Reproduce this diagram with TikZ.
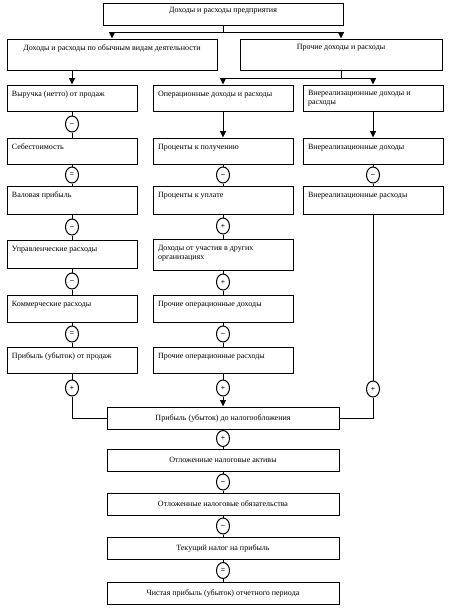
\documentclass[tikz,border=0pt]{standalone}
\usepackage{fontspec}
\setmainfont{Liberation Serif}
\usetikzlibrary{shapes.geometric,arrows.meta}
\begin{document}
\begin{tikzpicture}[x=1pt,y=-1pt,
  box/.style={draw, rectangle, line width=1pt, inner sep=0pt},
  cbl/.style={box, minimum width=130pt},
  cbm/.style={box, minimum width=140pt},
  cbb/.style={box, minimum width=232pt, minimum height=22pt, font=\fontsize{8}{9.5}\selectfont},
  lbl/.style={anchor=north west, inner sep=0pt, xshift=5pt, yshift=-6pt, font=\fontsize{8}{9.5}\selectfont, align=left},
  lblc/.style={anchor=north, inner sep=0pt, yshift=-4pt, font=\fontsize{8}{9.5}\selectfont},
  circ/.style={draw, ellipse, line width=1pt, minimum width=13pt, minimum height=16pt, inner sep=0pt, fill=white, font=\bfseries\fontsize{7.5}{7.5}\selectfont},
  arr/.style={-{Triangle[length=6.5pt,width=6pt]}},
  line width=1pt]
\useasboundingbox (0,0) rectangle (452,611);

% top level
\node[box, minimum width=240pt, minimum height=22pt, label={[lblc, yshift=-0.5pt]north:Доходы и расходы предприятия}] (T) at (223,14) {};
\node[box, minimum width=210pt, minimum height=31pt, label={[lblc, yshift=-1.5pt]north:Доходы и расходы по обычным видам деятельности}] (L1) at (112,54.5) {};
\node[box, minimum width=202pt, minimum height=31pt, label={[lblc, yshift=-1.5pt]north:Прочие доходы и расходы}] (R1) at (341,54.5) {};

% left column
\node[cbl, minimum height=26pt, label={[lbl]north west:Выручка (нетто) от продаж}] (A1) at (72,98) {};
\node[cbl, minimum height=26pt, label={[lbl]north west:Себестоимость}] (A2) at (72,151) {};
\node[cbl, minimum height=28pt, label={[lbl]north west:Валовая прибыль}] (A3) at (72,200) {};
\node[cbl, minimum height=28pt, label={[lbl]north west:Управленческие расходы}] (A4) at (72,254) {};
\node[cbl, minimum height=27pt, label={[lbl]north west:Коммерческие расходы}] (A5) at (72,308.5) {};
\node[cbl, minimum height=26pt, label={[lbl]north west:Прибыль (убыток) от продаж}] (A6) at (72,360) {};

\node[circ] (ca1) at (72,124) {–};
\node[circ] (ca2) at (72,175) {=};
\node[circ] (ca3) at (72,227) {–};
\node[circ] (ca4) at (72,281) {–};
\node[circ] (ca5) at (72,334) {=};
\node[circ] (ca6) at (72,388) {+};

% middle column
\node[cbm, minimum height=26pt, label={[lbl]north west:Операционные доходы и расходы}] (M1) at (223,98) {};
\node[cbm, minimum height=26pt, label={[lbl]north west:Проценты к получению}] (M2) at (223,151) {};
\node[cbm, minimum height=28pt, label={[lbl]north west:Проценты к уплате}] (M3) at (223,200) {};
\node[cbm, minimum height=31pt, label={[lbl]north west:Доходы от участия в других\\организациях}] (M4) at (223,254.5) {};
\node[cbm, minimum height=27pt, label={[lbl]north west:Прочие операционные доходы}] (M5) at (223,308.5) {};
\node[cbm, minimum height=26pt, label={[lbl]north west:Прочие операционные расходы}] (M6) at (223,360) {};

\node[circ] (cm2) at (223,175) {–};
\node[circ] (cm3) at (223,226) {+};
\node[circ] (cm4) at (223,282) {+};
\node[circ] (cm5) at (223,334) {–};
\node[circ] (cm6) at (223,388) {+};

% right column
\node[cbm, minimum height=26pt, label={[lbl, yshift=1pt]north west:Внереализационные доходы и\\расходы}] (N1) at (373,98) {};
\node[cbm, minimum height=26pt, label={[lbl]north west:Внереализационные доходы}] (N2) at (373,151) {};
\node[cbm, minimum height=28pt, label={[lbl]north west:Внереализационные расходы}] (N3) at (373,200) {};

\node[circ] (cn2) at (373,175) {–};
\node[circ] (cn6) at (373,389) {+};

% bottom column
\node[cbb] (B0) at (223,418) {Прибыль (убыток) до налогообложения};
\node[cbb] (B1) at (223,460) {Отложенные налоговые активы};
\node[cbb] (B2) at (223,504) {Отложенные налоговые обязательства};
\node[cbb] (B3) at (223,548) {Текущий налог на прибыль};
\node[cbb] (B4) at (223,593) {Чистая прибыль (убыток) отчетного периода};

\node[circ] (cb1) at (223,438.5) {+};
\node[circ] (cb2) at (223,482) {–};
\node[circ] (cb3) at (223,526) {–};
\node[circ] (cb4) at (223,570.5) {=};

% connectors top
\draw (T.south) -- ++(0,7) coordinate (j1);
\draw[arr] (j1) -| (L1.north);
\draw[arr] (j1) -| (R1.north);
\draw[arr] (A1.north |- L1.south) -- (A1.north);
\draw (R1.south) -- ++(0,8) coordinate (j2);
\draw[arr] (j2) -| (M1.north);
\draw[arr] (j2) -| (N1.north);

% left chain
\draw (A1) -- (ca1) -- (A2) -- (ca2) -- (A3) -- (ca3) -- (A4) -- (ca4) -- (A5) -- (ca5) -- (A6) -- (ca6);
\draw (ca6) |- (B0.west);

% middle chain
\draw[arr] (M1) -- (M2);
\draw (M2) -- (cm2) -- (M3) -- (cm3) -- (M4) -- (cm4) -- (M5) -- (cm5) -- (M6) -- (cm6);
\draw[arr] (cm6) -- (B0);

% right chain
\draw[arr] (N1) -- (N2);
\draw (N2) -- (cn2) -- (N3) -- (cn6);
\draw (cn6) |- (B0.east);

% bottom chain
\draw (B0) -- (cb1) -- (B1) -- (cb2) -- (B2) -- (cb3) -- (B3) -- (cb4) -- (B4);
\end{tikzpicture}
\end{document}
